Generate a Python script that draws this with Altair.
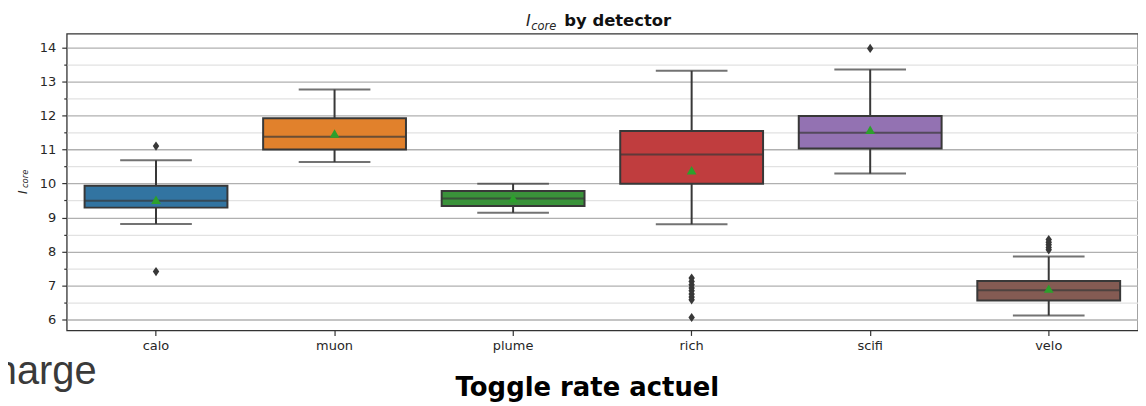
import altair as alt
import pandas as pd

# ---- data ----
detectors = ["calo", "muon", "plume", "rich", "scifi", "velo"]
whisker_low = [8.81, 10.63, 9.14, 8.80, 10.29, 6.12]
q1 = [9.29, 11.00, 9.34, 9.99, 11.03, 6.56]
median = [9.49, 11.37, 9.56, 10.85, 11.49, 6.86]
q3 = [9.93, 11.92, 9.78, 11.54, 11.98, 7.13]
whisker_high = [10.68, 12.76, 9.99, 13.31, 13.35, 7.85]
means = [9.52, 11.47, 9.57, 10.39, 11.58, 6.91]
box_colors = ["#3274a1", "#e1812c", "#3a923a", "#c03d3e", "#9372b2", "#845b53"]

outlier_detector = ["calo", "calo",
                    "rich", "rich", "rich", "rich", "rich", "rich", "rich", "rich", "rich",
                    "scifi",
                    "velo", "velo", "velo", "velo", "velo"]
outlier_value = [11.10, 7.41,
                 7.22, 7.12, 7.02, 6.93, 6.85, 6.75, 6.66, 6.58, 6.06,
                 13.97,
                 8.35, 8.27, 8.20, 8.12, 8.05]

y_ticks = [6 + 0.5 * i for i in range(17)]

title_symbol = "I"
title_sub = "core"
title_rest = "by detector"
ylabel_symbol = "I"
ylabel_sub = "core"
side_text = "harge"
caption_text = "Toggle rate actuel"

# ---- tables ----
df = pd.DataFrame({
    "detector": detectors,
    "lo": whisker_low,
    "q1": q1,
    "med": median,
    "q3": q3,
    "hi": whisker_high,
    "mean": means,
})
out_df = pd.DataFrame({"detector": outlier_detector, "value": outlier_value})

EDGE = "#383838"
LW = 2
FONT = "DejaVu Sans"
W, H = 1076, 298

x_enc = alt.X(
    "detector:N",
    sort=detectors,
    scale=alt.Scale(domain=detectors, paddingInner=0, paddingOuter=0),
    axis=alt.Axis(
        title=None, labelAngle=0, labelFont=FONT, labelFontSize=13,
        labelColor="#262626", tickSize=5, tickColor="#333333", tickWidth=1.2,
        labelPadding=4, domain=False, grid=False,
    ),
)

y_scale = alt.Scale(domain=[5.68, 14.40], nice=False, zero=False)
y_axis = alt.Axis(
    title=None,
    values=y_ticks,
    labelExpr="datum.value % 1 === 0 ? format(datum.value, 'd') : ''",
    labelFont=FONT, labelFontSize=13, labelColor="#262626",
    labelPadding=6,
    domain=False,
    tickColor="#333333",
    tickWidth=1.2,
    tickSize={"condition": {"test": "datum.value % 1 === 0", "value": 5}, "value": 3},
    grid=True,
    gridColor={"condition": {"test": "datum.value % 1 === 0", "value": "#b0b0b0"}, "value": "#e2e2e2"},
    gridWidth=1.3,
)


def Y(field):
    return alt.Y(field, type="quantitative", scale=y_scale, axis=y_axis)


base = alt.Chart(df)

whisk_up = base.mark_rule(color=EDGE, strokeWidth=LW).encode(
    x=x_enc, y=Y("q3"), y2="hi"
)
whisk_dn = base.mark_rule(color=EDGE, strokeWidth=LW).encode(
    x=x_enc, y=Y("lo"), y2="q1"
)
boxes = base.mark_bar(
    width=alt.RelativeBandSize(0.8), stroke=EDGE, strokeWidth=LW
).encode(
    x=x_enc, y=Y("q1"), y2="q3",
    color=alt.Color("detector:N", scale=alt.Scale(domain=detectors, range=box_colors), legend=None),
)
med = base.mark_tick(color=EDGE, thickness=LW, size=143.5).encode(x=x_enc, y=Y("med"))
cap_hi = base.mark_tick(color=EDGE, thickness=LW, size=72).encode(x=x_enc, y=Y("hi"))
cap_lo = base.mark_tick(color=EDGE, thickness=LW, size=72).encode(x=x_enc, y=Y("lo"))
mean_pts = base.mark_point(
    shape="triangle-up", filled=True, color="#2ca02c", size=95, opacity=1
).encode(x=x_enc, y=Y("mean"))
outliers = alt.Chart(out_df).mark_point(
    shape="M0,-1L0.7,0L0,1L-0.7,0Z", filled=True, color=EDGE, size=85, opacity=1
).encode(x=x_enc, y=Y("value"))


def label(txt, x, y, size, style="normal", weight="normal", font=FONT,
          color="#262626", align="left", angle=0):
    kw = dict(font=font, fontSize=size, fontStyle=style, fontWeight=weight,
              color=color, align=align, baseline="alphabetic")
    if angle:
        kw["angle"] = angle
    return alt.Chart(pd.DataFrame({"t": [txt]})).mark_text(**kw).encode(
        text="t:N", x=alt.value(x), y=alt.value(y)
    )


texts = [
    label(title_symbol, 461.3, -8, 16, style="italic"),
    label(title_sub, 466.5, -3.7, 11.5, style="italic"),
    label(title_rest, 499.7, -8, 16.5, weight="bold", color="#111111"),
    label(ylabel_symbol, -40, 161, 12, style="italic", angle=270),
    label(ylabel_sub, -38.5, 155, 8.5, style="italic", angle=270),
    label(side_text, 30, 352, 40, font="Liberation Sans", color="#3a3a3a", align="right"),
    label(caption_text, 523, 364.3, 26, weight="bold", color="#000000", align="center"),
]

chart = alt.layer(
    whisk_up, whisk_dn, boxes, med, cap_hi, cap_lo, mean_pts, outliers, *texts
).properties(
    width=W, height=H,
    padding={"left": 59, "top": 25, "right": 0, "bottom": 74},
    autosize=alt.AutoSizeParams(type="none"),
    background="white",
).configure_view(stroke="#333333", strokeWidth=1.3)

chart.save("out.html", embed_options={"renderer": "svg", "actions": False})
